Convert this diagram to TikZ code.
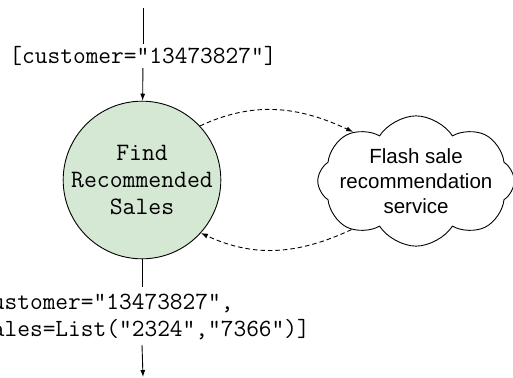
\documentclass[tikz,border=0pt]{standalone}
\usepackage{fontspec}
\newfontfamily\servicefont{Liberation Sans}
\usetikzlibrary{shapes.symbols,arrows.meta}
\definecolor{stagegreen}{HTML}{D5E8D4}
\begin{document}
\begin{tikzpicture}[
    x=1pt, y=-1pt,
    line width=0.9pt,
    code/.style={
        font=\ttfamily\fontsize{24.7}{26.5}\selectfont
    },
    msg/.style={
        code,
        fill=white,
        inner sep=2pt
    },
    stage/.style={
        circle,
        draw,
        fill=stagegreen,
        minimum size=154pt,
        inner sep=0pt,
        align=center,
        code,
        font=\ttfamily\fontsize{25}{27}\selectfont
    },
    service/.style={
        cloud,
        draw,
        cloud puffs=8,
        cloud puff arc=115,
        aspect=1.95,
        inner sep=-9pt,
        align=center,
        font=\servicefont\fontsize{20.5}{25}\selectfont
    },
    flow/.style={-{Latex[length=7pt,width=5pt]}},
    call/.style={dash pattern=on 4.5pt off 3pt, -{Latex[length=7pt,width=5pt]}}
]
\useasboundingbox (0,0) rectangle (513,377);

\coordinate (source) at (143,8);
\node[msg] (request) at (143,56) {[customer="13473827"]};
\node[stage] (find) at (142,180) {Find\\Recommended\\Sales};
\node[msg, align=left, inner sep=5pt, anchor=west] (reply) at (-39,316)
    {[customer="13473827",\\\hphantom{[}sales=List("2324","7366")]};
\coordinate (sink) at (143,377);

\node[service] (flash) at (416,181) {Flash sale\\recommendation\\service};

\draw (source) -- (request);
\draw[flow] (request) -- (find);
\draw (find) -- (reply.north -| find);
\draw[flow] (reply.south -| find) -- (sink);

\draw[call] (find.43) to[out=25, in=155] (flash.142);
\draw[call] (flash.217) to[out=205, in=-25] (find.-42);

\end{tikzpicture}
\end{document}
